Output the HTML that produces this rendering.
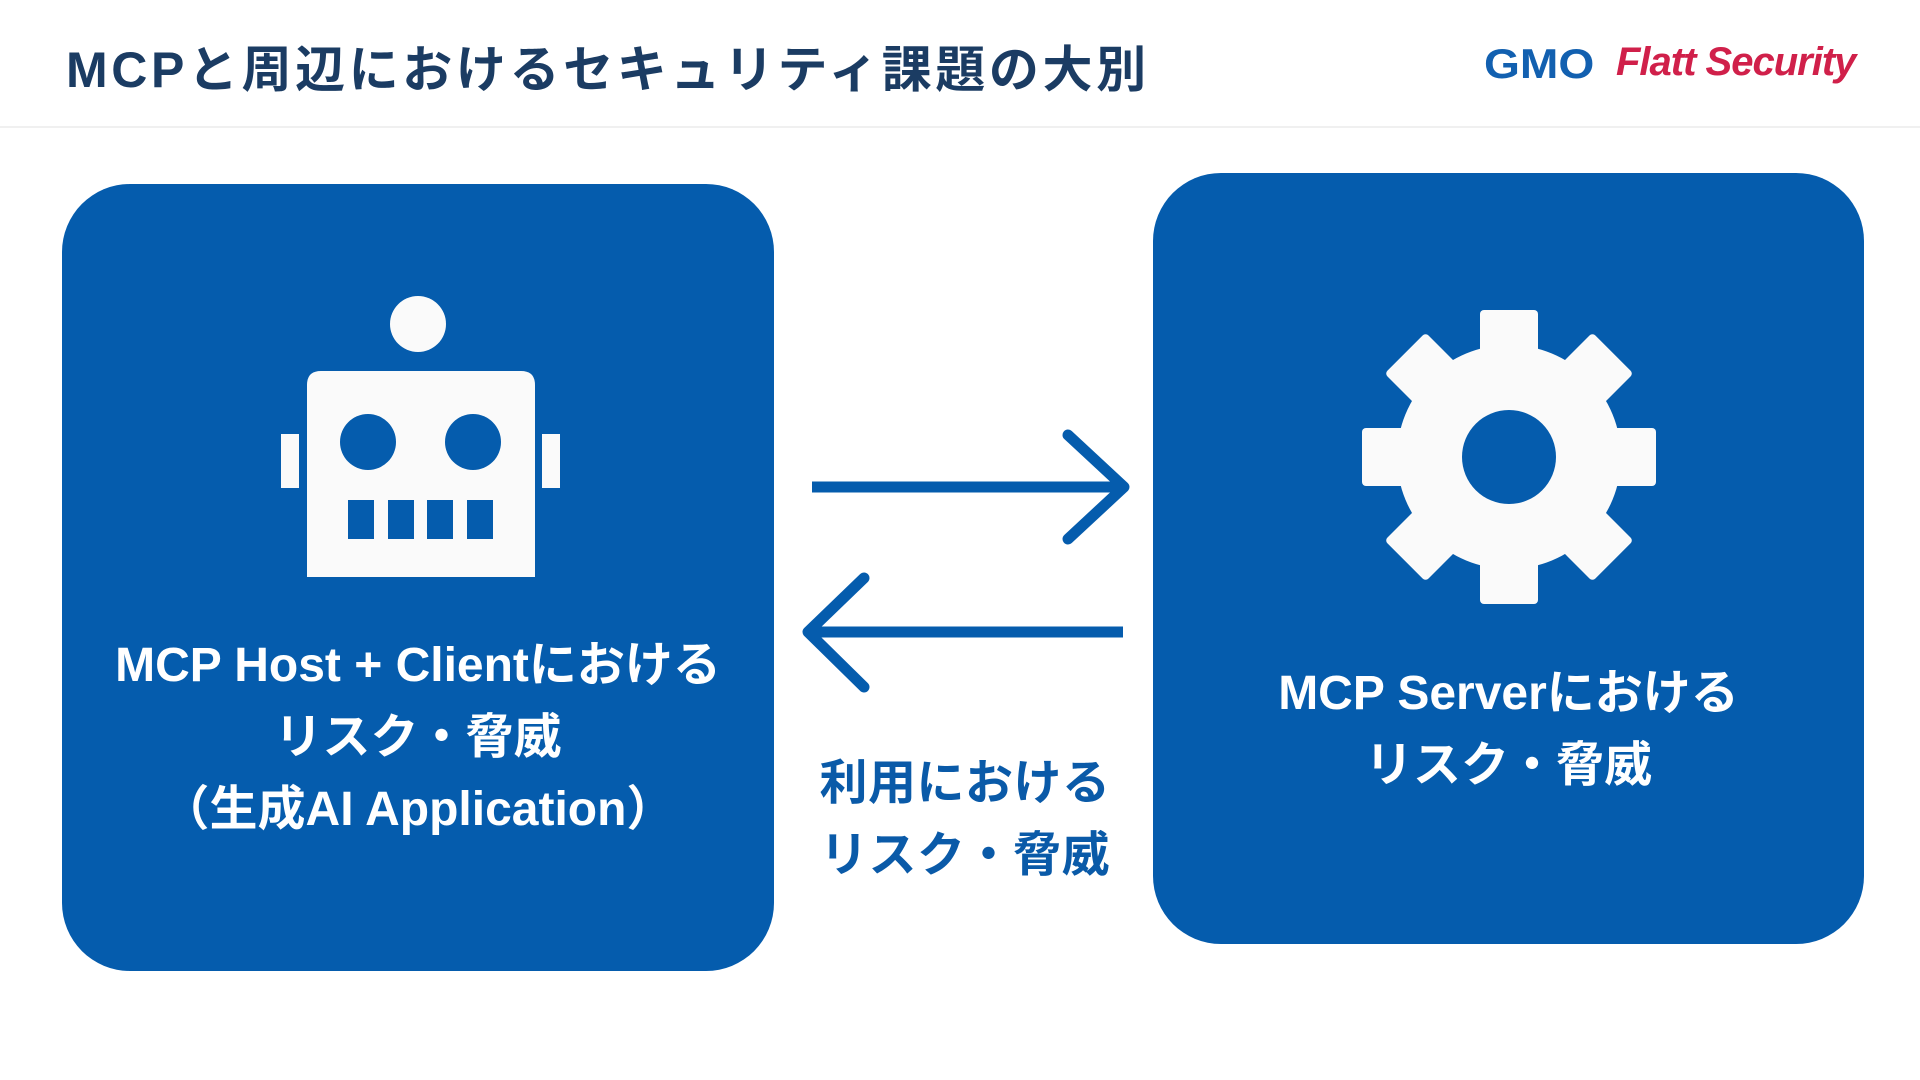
<!DOCTYPE html>
<html><head><meta charset="utf-8"><style>
body{margin:0;width:1920px;height:1080px;background:#fff;position:relative;overflow:hidden;font-family:"Liberation Sans","Noto Sans CJK JP",sans-serif}
.t{position:absolute;white-space:nowrap;font-weight:bold}
.box{position:absolute;background:#055cad;border-radius:68px}
.c{position:absolute;text-align:center;color:#fff;font-weight:bold;font-size:48px;line-height:72px}
</style></head><body>
<div class="t" style="left:66px;top:30px;font-size:50px;color:#1b3c63;letter-spacing:3.6px">MCPと周辺におけるセキュリティ課題の大別</div>
<div class="t" style="left:1484px;top:40px;font-size:42px;color:#1260b0;transform:scaleX(1.1);transform-origin:left">GMO</div>
<div class="t" style="left:1616px;top:40px;font-size:40px;color:#d0204a;font-style:italic;letter-spacing:-1px">Flatt Security</div>
<div style="position:absolute;left:0;top:126px;width:1920px;height:2px;background:#f0f0f0"></div>
<div class="box" style="left:62px;top:184px;width:712px;height:787px"></div>
<div class="box" style="left:1153px;top:173px;width:711px;height:771px"></div>
<svg style="position:absolute;left:0;top:0" width="1920" height="1080">
<g fill="#fafafa">
<circle cx="418" cy="324" r="28"/>
<path d="M307 385 Q307 371 321 371 L521 371 Q535 371 535 385 L535 577 L307 577Z"/>
<rect x="281" y="434" width="18" height="54"/><rect x="542" y="434" width="18" height="54"/>
</g>
<g fill="#055cad">
<circle cx="368" cy="442" r="28"/><circle cx="473" cy="442" r="28"/>
<rect x="348" y="500" width="26" height="39"/><rect x="388" y="500" width="26" height="39"/>
<rect x="427" y="500" width="26" height="39"/><rect x="467" y="500" width="26" height="39"/>
</g>
<g transform="translate(1509,457)">
<g fill="#fafafa">
<circle r="112"/>
<rect x="-29" y="-147" width="58" height="70" rx="4" transform="rotate(0)"/>
<rect x="-29" y="-147" width="58" height="70" rx="4" transform="rotate(45)"/>
<rect x="-29" y="-147" width="58" height="70" rx="4" transform="rotate(90)"/>
<rect x="-29" y="-147" width="58" height="70" rx="4" transform="rotate(135)"/>
<rect x="-29" y="-147" width="58" height="70" rx="4" transform="rotate(180)"/>
<rect x="-29" y="-147" width="58" height="70" rx="4" transform="rotate(225)"/>
<rect x="-29" y="-147" width="58" height="70" rx="4" transform="rotate(270)"/>
<rect x="-29" y="-147" width="58" height="70" rx="4" transform="rotate(315)"/>
</g>
<circle r="47" fill="#055cad"/>
</g>
<g stroke="#055cad" stroke-width="11" fill="none" stroke-linecap="round" stroke-linejoin="round">
<line x1="812" y1="487" x2="1124" y2="487" stroke-linecap="butt"/>
<polyline points="1068,435 1124,487 1068,539"/>
<line x1="811" y1="632" x2="1123" y2="632" stroke-linecap="butt"/>
<polyline points="864,578 808,632 864,687"/>
</g>
</svg>
<div class="c" style="left:62px;width:712px;top:630px">MCP Host + Clientにおける<br>リスク・脅威<br>（生成AI Application）</div>
<div class="c" style="left:1153px;width:711px;top:658px">MCP Serverにおける<br>リスク・脅威</div>
<div class="c" style="left:765px;width:400px;top:748px;color:#0a5aa8;letter-spacing:0.5px">利用における<br>リスク・脅威</div>
</body></html>
